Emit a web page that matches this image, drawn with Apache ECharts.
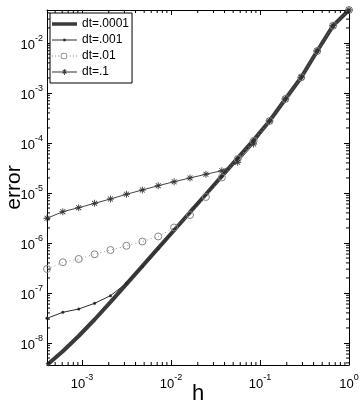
<!DOCTYPE html>
<html>
<head>
<meta charset="utf-8">
<script src="https://cdn.jsdelivr.net/npm/echarts@6/dist/echarts.min.js"></script>
<style>
  html, body { margin: 0; padding: 0; background: #fff; }
  #chart { width: 361px; height: 409px; }
</style>
</head>
<body>
<div id="chart"></div>
<script>
// grid spacing h (ascending)
const hValues = [0.000405, 0.000610, 0.000920, 0.001388, 0.00209, 0.00316, 0.00477, 0.00719,
  0.01085, 0.01637, 0.0247, 0.0373, 0.0562, 0.0848, 0.1280, 0.1931, 0.2912, 0.4395, 0.663, 1]

const errDt0001 = [3.63e-9, 6.86e-9, 1.38e-8, 2.95e-8, 6.58e-8, 1.50e-7, 3.44e-7, 7.87e-7,
  1.80e-6, 4.13e-6, 9.46e-6, 2.17e-5, 4.97e-5, 1.14e-4, 2.75e-4, 7.59e-4, 2.06e-3, 6.92e-3, 2.22e-2, 4.57e-2]
const errDt001 = [3.12e-8, 4.11e-8, 4.79e-8, 6.22e-8, 8.83e-8, 1.56e-7, 3.39e-7, 7.80e-7,
  1.78e-6, 4.07e-6, 9.30e-6, 2.14e-5, 4.79e-5, 1.10e-4, 2.75e-4, 7.59e-4, 2.06e-3, 6.92e-3, 2.22e-2, 4.57e-2]
const errDt01 = [3.02e-7, 4.11e-7, 4.79e-7, 5.94e-7, 7.24e-7, 8.79e-7, 1.07e-6, 1.35e-6,
  2.04e-6, 3.63e-6, 8.32e-6, 2.04e-5, 4.79e-5, 1.10e-4, 2.75e-4, 7.59e-4, 2.06e-3, 6.92e-3, 2.22e-2, 4.57e-2]
const errDt1 = [3.12e-6, 4.23e-6, 5.08e-6, 6.22e-6, 7.59e-6, 9.42e-6, 1.15e-5, 1.40e-5,
  1.68e-5, 2.00e-5, 2.37e-5, 2.79e-5, 4.11e-5, 9.55e-5, 2.75e-4, 7.59e-4, 2.06e-3, 6.92e-3, 2.22e-2, 4.57e-2]

const seriesNames = ['dt=.0001', 'dt=.001', 'dt=.01', 'dt=.1']

const X_MIN = 0.000405, X_MAX = 1
const Y_MIN = 3.63e-9, Y_MAX = 4.57e-2

const FONT = 'Liberation Sans, Arial, sans-serif'

// minor ticks at 2..9 x 10^n inside the range
function minorValues(lo, hi) {
  const out = []
  for (let e = Math.floor(Math.log10(lo)); e <= Math.ceil(Math.log10(hi)); e++) {
    for (let m = 2; m <= 9; m++) {
      const v = m * Math.pow(10, e)
      if (v > lo && v < hi) out.push(v)
    }
  }
  return out
}

const STAR = 'path://M0,4.4L10,4.4L10,5.6L0,5.6Z M4.4,0L5.6,0L5.6,10L4.4,10Z M1.1,1.9L1.9,1.1L8.9,8.1L8.1,8.9Z M8.1,1.1L8.9,1.9L1.9,8.9L1.1,8.1Z'

// legend icons (line sample + marker), kept in aspect by the legend
const ICON_THICK = 'path://M0,0h25v3.5h-25z'
const ICON_DOT = 'path://M0,1.1h25v0.9h-25z M11.3,0.3h2.4v2.4h-2.4z'
const ICON_CIRCLE = 'path://M1,3.1h1v0.9h-1z M4,3.1h1v0.9h-1z M7,3.1h1v0.9h-1z M18,3.1h1v0.9h-1z M21,3.1h1v0.9h-1z M24,3.1h1v0.9h-1z ' +
  'M9.3,3.5A3.2,3.2 0 1,0 15.7,3.5A3.2,3.2 0 1,0 9.3,3.5Z M10.1,3.5A2.4,2.4 0 1,1 14.9,3.5A2.4,2.4 0 1,1 10.1,3.5Z'
const ICON_STAR = 'path://M0,3.05h25v0.9h-25z M9.5,3.1h6v0.8h-6z M12.1,0.5h0.8v6h-0.8z ' +
  'M10.3,1.6L10.9,1L14.7,4.8L14.1,5.4Z M14.1,1L14.7,1.6L10.9,5.4L10.3,4.8Z'

function pairs(ys) {
  return hValues.map((h, i) => [h, ys[i]])
}

function expLabel(v) {
  const lg = Math.log10(v)
  const e = Math.round(lg)
  if (Math.abs(lg - e) > 1e-6) return ''
  return '{b|10}{s|' + e + '}'
}

const labelRich = {
  b: { fontSize: 13, fontFamily: FONT, color: '#000', verticalAlign: 'bottom', lineHeight: 18 },
  s: { fontSize: 9, fontFamily: FONT, color: '#000', verticalAlign: 'top', lineHeight: 18 },
}

function logAxis(pos, min, max, show) {
  return {
    type: 'log',
    logBase: 10,
    position: pos,
    min, max,
    splitLine: { show: false },
    axisLine: { show: true, onZero: false, lineStyle: { color: '#000', width: 1 } },
    axisTick: { show: true, inside: true, length: 5, lineStyle: { color: '#000' } },
    axisLabel: show
      ? { show: true, margin: pos === 'left' ? 4 : 8, formatter: expLabel, rich: labelRich, showMinLabel: false }
      : { show: false },
  }
}

function minorTicks(values, isX) {
  return {
    type: 'custom',
    silent: true,
    clip: false,
    z: 5,
    data: values.map(v => isX ? [v, Y_MIN] : [X_MIN, v]),
    renderItem(params, api) {
      const v = api.value(isX ? 0 : 1)
      const style = { stroke: '#000', lineWidth: 1 }
      if (isX) {
        const a = api.coord([v, Y_MIN]), b = api.coord([v, Y_MAX])
        return { type: 'group', children: [
          { type: 'line', shape: { x1: a[0], y1: a[1], x2: a[0], y2: a[1] - 3 }, style },
          { type: 'line', shape: { x1: b[0], y1: b[1], x2: b[0], y2: b[1] + 3 }, style },
        ] }
      }
      const a = api.coord([X_MIN, v]), b = api.coord([X_MAX, v])
      return { type: 'group', children: [
        { type: 'line', shape: { x1: a[0], y1: a[1], x2: a[0] + 3, y2: a[1] }, style },
        { type: 'line', shape: { x1: b[0], y1: b[1], x2: b[0] - 3, y2: b[1] }, style },
      ] }
    },
  }
}

const chart = echarts.init(document.getElementById('chart'), null, { renderer: 'canvas' })

const xMain = logAxis('bottom', X_MIN, X_MAX, true)
xMain.name = 'h'
xMain.nameLocation = 'middle'
xMain.nameGap = 18
xMain.nameMoveOverlap = false
xMain.nameTextStyle = { fontSize: 22, fontFamily: FONT, color: '#000' }

const yMain = logAxis('left', Y_MIN, Y_MAX, true)
yMain.name = 'error'
yMain.nameLocation = 'middle'
yMain.nameGap = 22
yMain.nameMoveOverlap = false
yMain.nameTextStyle = { fontSize: 21, fontFamily: FONT, color: '#000' }

chart.setOption({
  animation: false,
  backgroundColor: '#fff',
  grid: { left: 47, right: 12, top: 10, bottom: 44, outerBoundsMode: 'none', containLabel: false },
  xAxis: [xMain, logAxis('top', X_MIN, X_MAX, false)],
  yAxis: [yMain, logAxis('right', Y_MIN, Y_MAX, false)],
  legend: {
    data: [
      { name: seriesNames[0], icon: ICON_THICK },
      { name: seriesNames[1], icon: ICON_DOT },
      { name: seriesNames[2], icon: ICON_CIRCLE, itemStyle: { borderWidth: 0, color: '#808080' } },
      { name: seriesNames[3], icon: ICON_STAR },
    ],
    orient: 'vertical',
    left: 50,
    top: 13,
    itemWidth: 25,
    itemHeight: 8,
    itemGap: 4,
    symbolKeepAspect: true,
    padding: [5, 3, 5, 2],
    borderColor: '#000',
    borderWidth: 1,
    borderRadius: 0,
    backgroundColor: '#fff',
    textStyle: { fontFamily: FONT, fontSize: 12, color: '#000' },
  },
  series: [
    {
      name: seriesNames[0], type: 'line', data: pairs(errDt0001),
      symbol: 'none', lineStyle: { color: '#3a3a3a', width: 4 }, itemStyle: { color: '#3a3a3a' },
    },
    {
      name: seriesNames[1], type: 'line', data: pairs(errDt001),
      symbol: 'circle', symbolSize: 3, showAllSymbol: true,
      lineStyle: { color: '#2a2a2a', width: 1 }, itemStyle: { color: '#2a2a2a' },
    },
    {
      name: seriesNames[2], type: 'line', data: pairs(errDt01),
      symbol: 'circle', symbolSize: 7, showAllSymbol: true,
      lineStyle: { color: '#9a9a9a', width: 1, type: [1, 3] },
      itemStyle: { color: 'rgba(255,255,255,0)', borderColor: '#858585', borderWidth: 1 },
    },
    {
      name: seriesNames[3], type: 'line', data: pairs(errDt1),
      symbol: STAR, symbolSize: 7, showAllSymbol: true,
      lineStyle: { color: '#444', width: 1 }, itemStyle: { color: '#333' },
    },
    minorTicks(minorValues(X_MIN, X_MAX), true),
    minorTicks(minorValues(Y_MIN, Y_MAX), false),
  ],
})
</script>
</body>
</html>
